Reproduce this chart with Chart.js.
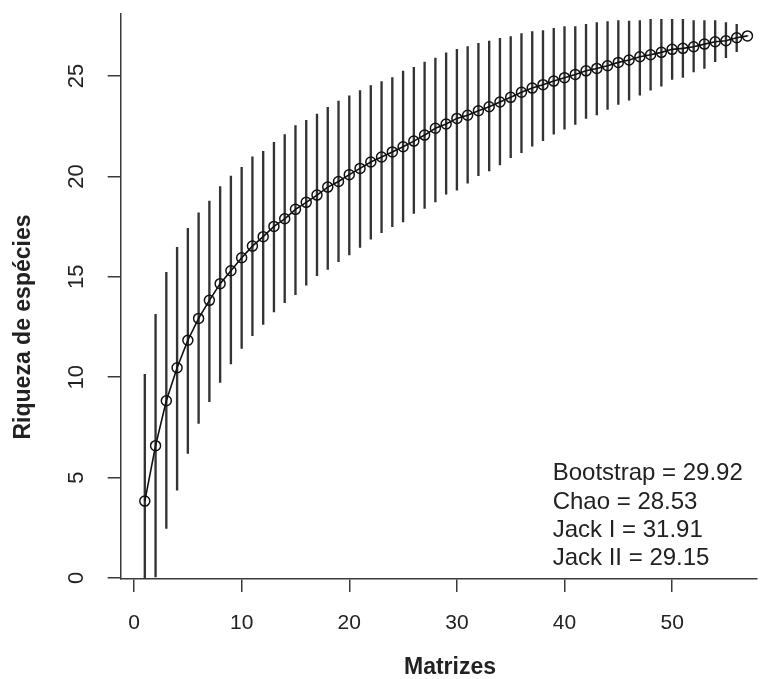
<!DOCTYPE html>
<html>
<head>
<meta charset="utf-8">
<title>Curva de acumulação de espécies</title>
<script src="https://cdn.jsdelivr.net/npm/chart.js@4/dist/chart.umd.min.js"></script>
<style>
  html, body { margin: 0; padding: 0; background: #fff; }
  #grafico { display: block; }
</style>
</head>
<body>
<canvas id="grafico" width="763" height="679"></canvas>
<script>
// curva de acumulação (media +- desvio por número de matrizes)
let matrizes = [1, 2, 3, 4, 5, 6, 7, 8, 9, 10, 11, 12, 13, 14, 15, 16, 17, 18, 19, 20,
    21, 22, 23, 24, 25, 26, 27, 28, 29, 30, 31, 32, 33, 34, 35, 36, 37, 38, 39, 40,
    41, 42, 43, 44, 45, 46, 47, 48, 49, 50, 51, 52, 53, 54, 55, 56, 57];

let riqueza = [3.83, 6.59, 8.83, 10.47, 11.84, 12.93, 13.83, 14.66, 15.30, 15.95,
    16.53, 17.00, 17.51, 17.89, 18.36, 18.71, 19.07, 19.47, 19.75, 20.09,
    20.40, 20.72, 20.97, 21.22, 21.48, 21.76, 22.06, 22.40, 22.61, 22.89,
    23.05, 23.27, 23.47, 23.71, 23.94, 24.19, 24.40, 24.57, 24.75, 24.92,
    25.08, 25.26, 25.38, 25.51, 25.68, 25.80, 25.96, 26.06, 26.18, 26.33,
    26.38, 26.46, 26.59, 26.71, 26.76, 26.91, 27.00];

let limSup = [10.14, 13.13, 15.22, 16.47, 17.41, 18.19, 18.77, 19.49, 20.02, 20.45,
    20.98, 21.25, 21.70, 22.08, 22.53, 22.79, 23.11, 23.44, 23.75, 24.02,
    24.27, 24.52, 24.72, 24.92, 25.25, 25.43, 25.70, 25.90, 26.16, 26.33,
    26.47, 26.63, 26.74, 26.88, 26.96, 27.12, 27.21, 27.26, 27.38, 27.46,
    27.46, 27.57, 27.66, 27.71, 27.76, 27.74, 27.76, 27.82, 27.82, 27.82,
    27.82, 27.76, 27.76, 27.76, 27.66, 27.57, 27.00];

let limInf = [-2.48, 0.05, 2.47, 4.38, 6.21, 7.70, 8.78, 9.74, 10.66, 11.44,
    12.07, 12.63, 13.25, 13.71, 14.11, 14.59, 15.06, 15.37, 15.75, 16.09,
    16.47, 16.87, 17.20, 17.50, 17.74, 18.16, 18.41, 18.73, 19.12, 19.32,
    19.66, 20.04, 20.28, 20.57, 20.93, 21.18, 21.51, 21.78, 22.10, 22.36,
    22.59, 22.89, 23.06, 23.34, 23.59, 23.80, 24.05, 24.30, 24.50, 24.83,
    24.93, 25.21, 25.38, 25.71, 25.91, 26.21, 27.00];

let estimadores = ["Bootstrap = 29.92", "Chao = 28.53", "Jack I = 31.91", "Jack II = 29.15"];

let ticksY = [0, 5, 10, 15, 20, 25];
let ticksX = [0, 10, 20, 30, 40, 50];

let tituloX = "Matrizes";
let tituloY = "Riqueza de espécies";

let fonte = '"Liberation Sans", Arial, sans-serif';
let corTexto = "#222";
let corEixo = "#3a3a3a";

let pontos = matrizes.map((m, i) => ({ x: m, y: riqueza[i] }));
let barras = matrizes.map((m, i) => ({ x: m, y: [limInf[i], limSup[i]] }));

// textos no estilo do R: rótulos do eixo y girados, títulos e estimadores
const textos = {
    id: "textos",
    afterDraw(chart) {
        let ctx = chart.ctx;
        let sx = chart.scales.x;
        let sy = chart.scales.y;
        ctx.save();
        ctx.fillStyle = corTexto;
        ctx.textAlign = "center";
        ctx.textBaseline = "middle";

        ctx.font = "22px " + fonte;
        ticksY.forEach(v => {
            ctx.save();
            ctx.translate(77, sy.getPixelForValue(v));
            ctx.rotate(-Math.PI / 2);
            ctx.fillText(String(v), 0, 0);
            ctx.restore();
        });

        ctx.font = "bold 23px " + fonte;
        ctx.fillText(tituloX, 450, 668);
        ctx.save();
        ctx.translate(24, 327);
        ctx.rotate(-Math.PI / 2);
        ctx.fillText(tituloY, 0, 0);
        ctx.restore();

        ctx.font = "24px " + fonte;
        ctx.textAlign = "left";
        let x0 = sx.getPixelForValue(38.9);
        let y0 = sy.getPixelForValue(5.2);
        estimadores.forEach((t, i) => {
            ctx.fillText(t, x0, y0 + i * 28.4);
        });
        ctx.restore();
    }
};

let ctx = document.querySelector("#grafico");
let config = {
    type: "line",
    data: {
        datasets: [
            {
                type: "bar",
                data: barras,
                backgroundColor: "#333",
                borderWidth: 0,
                barThickness: 1.7,
                grouped: false,
                order: 2
            },
            {
                type: "line",
                data: pontos,
                borderColor: "#111",
                borderWidth: 1.6,
                pointRadius: 5,
                pointBorderWidth: 1.5,
                pointBorderColor: "#111",
                pointBackgroundColor: "rgba(0,0,0,0)",
                tension: 0,
                order: 1
            }
        ]
    },
    options: {
        responsive: false,
        animation: false,
        layout: { padding: { top: 14, right: 0, left: 0, bottom: 0 } },
        plugins: {
            legend: { display: false },
            tooltip: { enabled: false }
        },
        scales: {
            x: {
                type: "linear",
                min: -1.24,
                max: 57.84,
                offset: false,
                afterFit: s => { s.height = 100; },
                afterBuildTicks: s => { s.ticks = ticksX.map(v => ({ value: v })); },
                grid: {
                    offset: false,
                    drawOnChartArea: false,
                    drawTicks: true,
                    tickLength: 13,
                    color: corEixo,
                    lineWidth: 1.5
                },
                border: { display: true, color: corEixo, width: 1.5 },
                ticks: {
                    padding: 19,
                    color: corTexto,
                    font: { family: fonte, size: 21 },
                    maxRotation: 0
                }
            },
            y: {
                type: "linear",
                min: -0.05,
                max: 28.09,
                afterFit: s => { s.width = 120.7; },
                afterBuildTicks: s => { s.ticks = ticksY.map(v => ({ value: v })); },
                grid: {
                    drawOnChartArea: false,
                    drawTicks: true,
                    tickLength: 13,
                    color: corEixo,
                    lineWidth: 1.5
                },
                border: { display: true, color: corEixo, width: 1.5 },
                ticks: { display: false }
            }
        }
    },
    plugins: [textos]
};

let myChart = new Chart(ctx, config);
</script>
</body>
</html>
